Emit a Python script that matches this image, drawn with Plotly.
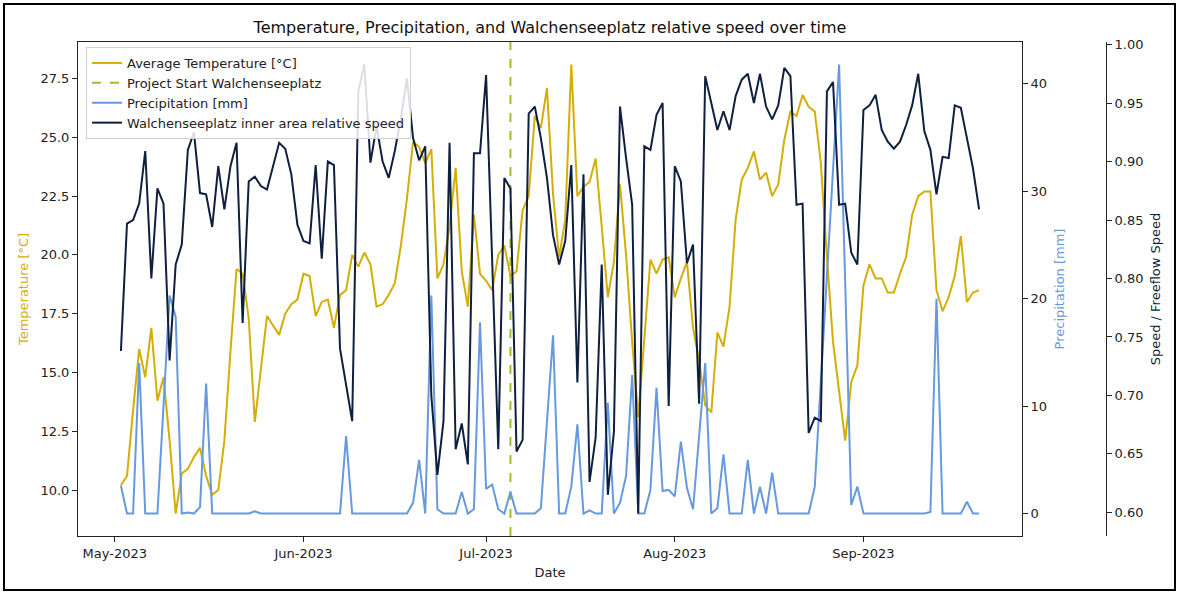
import pandas as pd
import plotly.graph_objects as go

# Daily observations, 2 May 2023 – 20 Sep 2023
dates = pd.date_range("2023-05-02", "2023-09-20", freq="D")

avg_temperature = [
    10.2, 10.6, 13.4, 16.0, 14.8, 16.9, 13.8, 14.8, 12.1, 9.0,
    10.7, 10.9, 11.4, 11.8, 10.6, 9.8, 10.0, 12.1, 15.9, 19.4,
    19.2, 17.3, 12.9, 15.2, 17.4, 17.0, 16.6, 17.5, 17.9, 18.1,
    19.2, 19.1, 17.4, 18.0, 18.1, 16.9, 18.3, 18.5, 20.0, 19.5,
    20.1, 19.6, 17.8, 17.9, 18.3, 18.8, 20.4, 22.4, 24.8, 24.6,
    23.9, 24.5, 19.0, 19.6, 21.2, 23.7, 19.3, 17.8, 21.7, 19.2,
    18.9, 18.5, 20.0, 20.4, 19.1, 19.3, 21.9, 22.5, 25.9, 25.4,
    27.1, 22.6, 19.9, 21.5, 28.1, 22.5, 22.9, 23.1, 24.1, 21.2,
    18.2, 19.7, 23.0, 20.0, 16.3, 13.1, 16.5, 19.8, 19.2, 19.8,
    19.9, 18.2, 19.0, 19.7, 16.9, 15.5, 13.6, 13.3, 16.7, 16.1,
    17.8, 21.5, 23.2, 23.7, 24.4, 23.2, 23.5, 22.5, 23.0, 24.9,
    26.1, 25.9, 26.8, 26.3, 26.1, 23.9, 19.9, 16.3, 14.2, 12.1,
    14.6, 15.3, 18.7, 19.6, 19.0, 19.0, 18.4, 18.4, 19.2, 19.9,
    21.7, 22.5, 22.7, 22.7, 18.5, 17.6, 18.2, 19.1, 20.8, 18.0,
    18.4, 18.5,
]

precipitation = [
    2.6, 0.0, 0.0, 14.0, 0.0, 0.0, 0.0, 10.0, 20.3, 18.3,
    0.0, 0.1, 0.0, 0.6, 12.1, 0.0, 0.0, 0.0, 0.0, 0.0,
    0.0, 0.0, 0.2, 0.0, 0.0, 0.0, 0.0, 0.0, 0.0, 0.0,
    0.0, 0.0, 0.0, 0.0, 0.0, 0.0, 0.0, 7.2, 0.0, 0.0,
    0.0, 0.0, 0.0, 0.0, 0.0, 0.0, 0.0, 0.0, 1.0, 5.0,
    0.0, 20.3, 0.4, 0.0, 0.0, 0.0, 2.0, 0.0, 0.4, 17.8,
    2.3, 2.7, 0.4, 0.0, 2.0, 0.0, 0.0, 0.0, 0.0, 0.5,
    9.0, 16.6, 0.0, 0.0, 2.5, 8.3, 0.0, 0.3, 0.0, 0.0,
    10.3, 0.0, 1.0, 3.5, 12.9, 0.0, 0.0, 2.2, 11.7, 2.1,
    2.2, 1.6, 6.7, 2.4, 0.4, 7.0, 14.0, 0.0, 0.5, 5.5,
    0.0, 0.0, 0.0, 5.0, 0.0, 2.5, 0.0, 3.8, 0.0, 0.0,
    0.0, 0.0, 0.0, 0.0, 2.5, 12.4, 22.3, 32.0, 41.8, 21.5,
    0.8, 2.5, 0.0, 0.0, 0.0, 0.0, 0.0, 0.0, 0.0, 0.0,
    0.0, 0.0, 0.0, 0.15, 20.0, 0.0, 0.0, 0.0, 0.0, 1.1,
    0.0, 0.0,
]

relative_speed = [
    0.738, 0.847, 0.850, 0.864, 0.909, 0.800, 0.877, 0.864, 0.730, 0.812,
    0.829, 0.910, 0.925, 0.873, 0.872, 0.844, 0.896, 0.859, 0.896, 0.916,
    0.762, 0.883, 0.887, 0.879, 0.876, 0.896, 0.916, 0.911, 0.889, 0.846,
    0.832, 0.830, 0.897, 0.817, 0.900, 0.897, 0.740, 0.709, 0.678, 0.960,
    0.983, 0.899, 0.930, 0.900, 0.886, 0.909, 0.937, 0.971, 0.920, 0.901,
    0.913, 0.700, 0.632, 0.678, 0.916, 0.654, 0.676, 0.641, 0.907, 0.907,
    0.974, 0.815, 0.654, 0.886, 0.877, 0.652, 0.662, 0.941, 0.947, 0.920,
    0.886, 0.837, 0.812, 0.832, 0.897, 0.711, 0.889, 0.626, 0.664, 0.812,
    0.615, 0.669, 0.947, 0.903, 0.863, 0.599, 0.913, 0.910, 0.940, 0.950,
    0.691, 0.896, 0.883, 0.813, 0.829, 0.693, 0.973, 0.950, 0.927, 0.943,
    0.927, 0.956, 0.970, 0.975, 0.950, 0.975, 0.947, 0.936, 0.948, 0.980,
    0.973, 0.863, 0.864, 0.668, 0.681, 0.678, 0.960, 0.968, 0.863, 0.864,
    0.822, 0.812, 0.944, 0.948, 0.957, 0.927, 0.917, 0.911, 0.917, 0.931,
    0.948, 0.975, 0.926, 0.910, 0.872, 0.904, 0.903, 0.948, 0.946, 0.920,
    0.894, 0.859,
]

project_start = pd.Timestamp("2023-07-05")

TEMP_COLOR = "#d4ae07"
START_COLOR = "#9cbf2e"
PRECIP_COLOR = "#6699dd"
SPEED_COLOR = "#0f1f3f"
FONT = "DejaVu Sans"


def padded(values, frac=0.05):
    lo, hi = min(values), max(values)
    pad = (hi - lo) * frac
    return [lo - pad, hi + pad]


span = dates[-1] - dates[0]
x_range = [dates[0] - span * 0.05, dates[-1] + span * 0.05]
temp_range = padded(avg_temperature)
precip_range = padded(precipitation)
speed_range = padded(relative_speed)

fig = go.Figure()

fig.add_trace(go.Scatter(
    x=dates, y=avg_temperature, mode="lines", name="Average Temperature [°C]",
    line=dict(color=TEMP_COLOR, width=2), yaxis="y",
))
fig.add_trace(go.Scatter(
    x=[project_start, project_start], y=temp_range, mode="lines",
    name="Project Start Walchenseeplatz",
    line=dict(color=START_COLOR, width=2, dash="dash"), yaxis="y",
))
fig.add_trace(go.Scatter(
    x=dates, y=precipitation, mode="lines", name="Precipitation [mm]",
    line=dict(color=PRECIP_COLOR, width=2), yaxis="y2",
))
fig.add_trace(go.Scatter(
    x=dates, y=relative_speed, mode="lines",
    name="Walchenseeplatz inner area relative speed",
    line=dict(color=SPEED_COLOR, width=2), yaxis="y3",
))

axis_common = dict(
    showgrid=False, zeroline=False, showline=True, linecolor="#222",
    linewidth=1, ticks="outside", ticklen=5, tickcolor="#222",
    tickfont=dict(family=FONT, size=13, color="#222"),
)

L, R, T, B = 78, 73, 42, 57
W, H = 1179, 593
paper_w = W - L - R
paper_h = H - T - B
plot_right = 1022


def px_x(p):
    return (p - L) / paper_w


def px_y(p):
    return (H - B - p) / paper_h


fig.update_layout(
    width=W, height=H,
    margin=dict(l=L, r=R, t=T, b=B, pad=0),
    paper_bgcolor="white", plot_bgcolor="white",
    font=dict(family=FONT, size=13, color="#222"),
    title=dict(
        text="Temperature, Precipitation, and Walchenseeplatz relative speed over time",
        x=px_x(550), xref="paper", xanchor="center",
        y=1 - 27 / H, yanchor="middle",
        font=dict(family=FONT, size=16, color="#111"),
    ),
    xaxis=dict(
        **axis_common, domain=[0, px_x(plot_right)], range=x_range,
        type="date", tick0="2023-05-01", dtick="M1", tickformat="%b-%Y",
        mirror=True,
        title=dict(text="Date", font=dict(family=FONT, size=13, color="#222"),
                   standoff=8),
    ),
    yaxis=dict(
        **axis_common, range=temp_range, tick0=10, dtick=2.5,
        tickformat=".1f",
        title=dict(text="Temperature [°C]",
                   font=dict(family=FONT, size=13, color=TEMP_COLOR),
                   standoff=8),
    ),
    yaxis2=dict(
        **axis_common, range=precip_range, tick0=0, dtick=10,
        overlaying="y", side="right", anchor="x",
        title=dict(text="Precipitation [mm]",
                   font=dict(family=FONT, size=13, color=PRECIP_COLOR),
                   standoff=8),
    ),
    yaxis3=dict(
        **axis_common, range=speed_range, tick0=0.6, dtick=0.05,
        tickformat=".2f",
        overlaying="y", side="right", anchor="free", position=1.0,
        title=dict(text="Speed / Freeflow Speed",
                   font=dict(family=FONT, size=13, color=SPEED_COLOR),
                   standoff=8),
    ),
    legend=dict(
        x=px_x(86), y=px_y(47), xanchor="left", yanchor="top",
        bgcolor="rgba(255,255,255,0.85)", bordercolor="#d0d0d0", borderwidth=1,
        font=dict(family=FONT, size=13, color="#222"),
        itemwidth=30, tracegroupgap=0,
    ),
    showlegend=True,
    shapes=[dict(
        type="rect", xref="paper", yref="paper",
        x0=px_x(4), x1=px_x(1175), y0=px_y(590), y1=px_y(4),
        line=dict(color="black", width=2), fillcolor="rgba(0,0,0,0)",
        layer="below",
    )],
)

fig.write_html("out.html")
